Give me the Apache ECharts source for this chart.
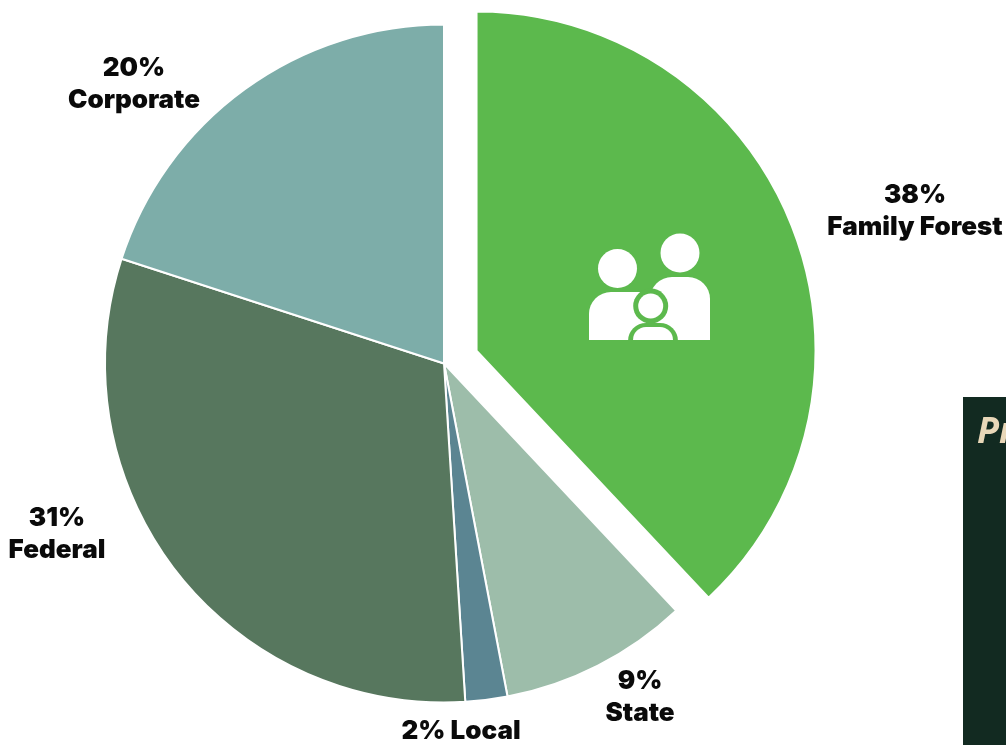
<!DOCTYPE html>
<html>
<head>
<meta charset="utf-8">
<style>
html,body{margin:0;padding:0;background:#fff;overflow:hidden;}
#main{width:1006px;height:745px;}
</style>
<script src="https://cdn.jsdelivr.net/npm/echarts@6/dist/echarts.min.js"></script>
</head>
<body>
<div id="main"></div>
<script>
var names = ['Family Forest','State','Local','Federal','Corporate'];
var shares = [38,9,2,31,20];
var colors = ['#5cb94d','#9dbdaa','#5b8592','#57775e','#7dada9'];
// 标签位置
var labelPos = [[915,211],[640,697],[461,731],[57,534],[134,84]];

var GREEN = colors[0];
var chart = echarts.init(document.getElementById('main'));

var seriesData = [];
var graphics = [
    // 右侧深色面板
    {type:'rect',shape:{x:963,y:397,width:43,height:348},style:{fill:'#122a21'}},
    {type:'text',x:977,y:433,style:{text:'Pr',fill:'#e8d7b8',verticalAlign:'middle',font:'italic 700 36px "Open Sans"'}}
];
for(var i=0;i<names.length;i++){
    seriesData.push({
        name:names[i],
        value:shares[i],
        selected:i==0,
        itemStyle:{color:colors[i]}
    });
    graphics.push({
        type:'text',
        z:10,
        x:labelPos[i][0],
        y:labelPos[i][1],
        style:{
            text:shares[i] + '%' + (names[i]=='Local' ? ' ' : '\n') + names[i],
            fill:'#0a0a0a',
            font:'900 26px Inter',
            lineHeight:32,
            align:'center',
            verticalAlign:'middle'
        }
    });
}

// 家庭图标
var icon = [
    {type:'circle',shape:{cx:617.5,cy:268.5,r:19.5},style:{fill:'#fff'}},
    {type:'circle',shape:{cx:680,cy:253,r:19.5},style:{fill:'#fff'}},
    {type:'rect',shape:{x:589,y:292,width:61,height:48,r:[22,0,0,0]},style:{fill:'#fff'}},
    {type:'rect',shape:{x:650,y:277,width:60,height:63,r:[22,22,0,0]},style:{fill:'#fff'}},
    {type:'circle',shape:{cx:650.7,cy:306,r:17.5},style:{fill:GREEN}},
    {type:'circle',shape:{cx:650.7,cy:306,r:12.5},style:{fill:'#fff'}},
    {type:'rect',shape:{x:628,y:323,width:50,height:18,r:[18,18,0,0]},style:{fill:GREEN}},
    {type:'rect',shape:{x:633,y:327,width:40,height:13,r:[13,13,0,0]},style:{fill:'#fff'}}
];
for(var j=0;j<icon.length;j++){
    icon[j].z = 10 + j;
    graphics.push(icon[j]);
}

chart.setOption({
    animation:false,
    backgroundColor:'#fff',
    series:[{
        type:'pie',
        center:[444,363.5],
        radius:[0,339],
        startAngle:90,
        clockwise:true,
        selectedMode:'single',
        selectedOffset:35,
        silent:true,
        itemStyle:{borderColor:'#fff',borderWidth:2},
        select:{itemStyle:{color:GREEN,borderColor:'#fff',borderWidth:2}},
        label:{show:false},
        labelLine:{show:false},
        data:seriesData
    }],
    graphic:graphics
});
</script>
</body>
</html>
